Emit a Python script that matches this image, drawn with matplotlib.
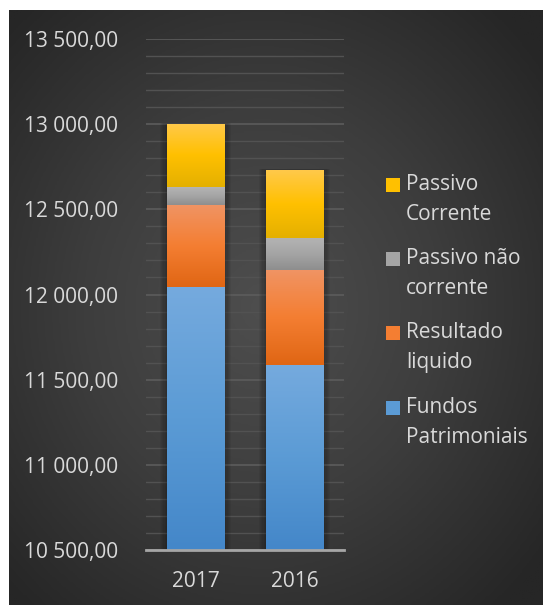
import numpy as np
import matplotlib.pyplot as plt
from matplotlib.colors import LinearSegmentedColormap
from matplotlib.patches import Rectangle
from matplotlib.ticker import FuncFormatter, MultipleLocator

plt.rcParams['font.family'] = ['Open Sans', 'DejaVu Sans']

years = ['2017', '2016']
fundos = [12043, 11585]
resultado = [482, 559]
passivo_nc = [104, 190]
passivo_c = [371, 396]

series = [
    ('Fundos\nPatrimoniais', fundos, ['#75aade', '#5b9bd5', '#4487c9']),
    ('Resultado\nliquido', resultado, ['#f09464', '#f47e32', '#e06614']),
    ('Passivo não\ncorrente', passivo_nc, ['#b4b4b4', '#a5a5a5', '#8e8e8e']),
    ('Passivo\nCorrente', passivo_c, ['#ffc94a', '#ffc000', '#e4b000']),
]

W, H = 543, 605
fig = plt.figure(figsize=(W / 100, H / 100), dpi=100)
fig.patch.set_facecolor('white')

# dark radial-gradient background panel
bg = fig.add_axes([9 / W, 0, 534 / W, 595 / H])
bg.set_axis_off()
yy, xx = np.mgrid[-1:1:300j, -1:1:300j]
r = np.sqrt((xx + 0.05) ** 2 + (yy - 0.0) ** 2)
bg_cmap = LinearSegmentedColormap.from_list('bg', ['#4e4e4e', '#3d3d3d', '#262626'])
bg.imshow(r, cmap=bg_cmap, vmin=0, vmax=1.35, aspect='auto', extent=[0, 1, 0, 1])

ax = fig.add_axes([146 / W, 55 / H, 198 / W, 511 / H])
ax.set_facecolor('none')
ax.set_xlim(-0.5, 1.5)
ax.set_ylim(10500, 13500)

x = np.arange(len(years))
width = 0.576
totals = np.sum([s[1] for s in series], axis=0)

# soft shadow behind the bars
for xi, t in zip(x, totals):
    for k in range(6):
        pad = 0.012 * (k + 1)
        ax.add_patch(Rectangle((xi - width / 2 - pad, 10500), width + 2 * pad,
                               t - 10500 + pad * 120, color='black',
                               alpha=0.05, lw=0, zorder=2))

bottom = np.zeros(len(years))
for label, vals, cols in series:
    bars = ax.bar(x, vals, width, bottom=bottom, color=cols[1], label=label, zorder=3)
    cmap = LinearSegmentedColormap.from_list(label, cols[::-1])
    grad = np.linspace(0, 1, 100).reshape(-1, 1)
    for b in bars:
        bx, by = b.get_x(), b.get_y()
        bw, bh = b.get_width(), b.get_height()
        top = by + bh
        lo = max(by, 10500)
        im = ax.imshow(grad, cmap=cmap, aspect='auto', origin='lower',
                       extent=[bx, bx + bw, lo, top], zorder=4)
        im.set_clip_path(b)
    bottom += np.array(vals)

ax.set_xlim(-0.5, 1.5)
ax.set_ylim(10500, 13500)

ax.yaxis.set_major_locator(MultipleLocator(500))
ax.yaxis.set_minor_locator(MultipleLocator(100))
ax.grid(which='major', axis='y', color='#5c5c5c', linewidth=1.2, zorder=0)
ax.grid(which='minor', axis='y', color='#525252', linewidth=1.0, zorder=0)

fmt = lambda v, p: '{:,.2f}'.format(v).replace(',', ' ').replace('.', ',')
ax.yaxis.set_major_formatter(FuncFormatter(fmt))
ax.set_xticks(x)
ax.set_xticklabels(years)
ax.tick_params(axis='both', which='both', length=0, colors='#d9d9d9', labelsize=15)
ax.tick_params(axis='y', pad=20)
ax.tick_params(axis='x', pad=15)

for s in ['top', 'right', 'left']:
    ax.spines[s].set_visible(False)
ax.spines['bottom'].set_color('#a6a6a6')
ax.spines['bottom'].set_linewidth(2)
ax.spines['bottom'].set_zorder(5)

# legend, top entry first, square aligned with the first text line
leg_y = [185, 259, 333, 408]
for (label, _, cols), ly in zip(series[::-1], leg_y):
    fig.patches.append(Rectangle((386 / W, 1 - (ly + 7) / H), 14 / W, 14 / H,
                                 transform=fig.transFigure, figure=fig,
                                 facecolor=cols[1], lw=0))
    fig.text(406 / W, 1 - (ly - 11) / H, label, color='#d9d9d9', fontsize=15,
             va='top', ha='left', linespacing=1.55)

fig.savefig('out.png', dpi=100)
